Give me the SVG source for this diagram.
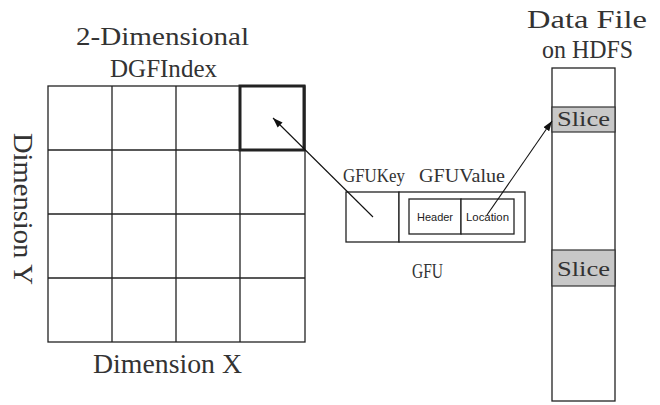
<svg xmlns="http://www.w3.org/2000/svg" width="660" height="405" viewBox="0 0 660 405">
<style>
.t{font-family:"Liberation Serif","DejaVu Serif",serif;fill:#333;}
.s{font-family:"Liberation Sans",Arial,sans-serif;fill:#222;font-size:11px;}
.ln{stroke:#222;stroke-width:1.3;fill:none;}
.box{stroke:#222;stroke-width:1.3;fill:#fff;}
.slice{fill:#c8c8c8;stroke:#333;stroke-width:1.2;}
.arr{stroke:#111;stroke-width:1.1;fill:none;marker-end:url(#ah);}
</style>
<defs>
<marker id="ah" viewBox="0 0 10 10" refX="10" refY="5" markerWidth="10" markerHeight="10" markerUnits="userSpaceOnUse" orient="auto">
<path d="M0,1.5 L10,5 L0,8.5 Z" fill="#111"/>
</marker>
</defs>
<rect width="660" height="405" fill="#fff"/>
<g id="grid">
<text class="t" x="76" y="45" font-size="26" textLength="173" lengthAdjust="spacingAndGlyphs">2-Dimensional</text>
<text class="t" x="110" y="77" font-size="26" textLength="107" lengthAdjust="spacingAndGlyphs">DGFIndex</text>
<rect class="ln" x="48" y="86" width="257" height="256"/>
<path class="ln" d="M112,86V342M176,86V342M240,86V342M48,150H305M48,214H305M48,278H305"/>
<rect x="240" y="86" width="64" height="64" fill="none" stroke="#222" stroke-width="3"/>
<text class="t" x="93" y="373" font-size="27" textLength="149" lengthAdjust="spacingAndGlyphs">Dimension X</text>
<text class="t" transform="translate(14,133) rotate(90)" x="0" y="0" font-size="27" textLength="152" lengthAdjust="spacingAndGlyphs">Dimension Y</text>
</g>
<g id="gfu">
<text class="t" x="343" y="182" font-size="19" textLength="62" lengthAdjust="spacingAndGlyphs">GFUKey</text>
<text class="t" x="419" y="182" font-size="19" textLength="86" lengthAdjust="spacingAndGlyphs">GFUValue</text>
<rect class="box" x="346" y="192" width="53" height="50"/>
<rect class="box" x="399" y="192" width="126" height="50"/>
<rect class="box" x="409" y="199" width="52" height="35"/>
<rect class="box" x="461" y="199" width="53" height="35"/>
<text class="s" x="417" y="221" textLength="36" lengthAdjust="spacingAndGlyphs">Header</text>
<text class="s" x="466" y="221" textLength="43" lengthAdjust="spacingAndGlyphs">Location</text>
<text class="t" x="412" y="278" font-size="21" textLength="31" lengthAdjust="spacingAndGlyphs">GFU</text>
</g>
<g id="datafile">
<text class="t" x="527" y="28" font-size="25" textLength="120" lengthAdjust="spacingAndGlyphs">Data File</text>
<text class="t" x="542" y="58" font-size="25" textLength="91" lengthAdjust="spacingAndGlyphs">on HDFS</text>
<rect class="box" x="552" y="68" width="63" height="333"/>
<rect class="slice" x="552" y="107" width="63" height="25"/>
<rect class="slice" x="552" y="250" width="63" height="36"/>
<text class="t" x="557" y="126" font-size="22" textLength="53" lengthAdjust="spacingAndGlyphs">Slice</text>
<text class="t" x="557" y="276" font-size="22" textLength="53" lengthAdjust="spacingAndGlyphs">Slice</text>
</g>
<g id="connectors">
<line class="arr" x1="373" y1="217" x2="273" y2="118"/>
<line class="arr" x1="487" y1="215" x2="552" y2="121"/>
</g>
</svg>
